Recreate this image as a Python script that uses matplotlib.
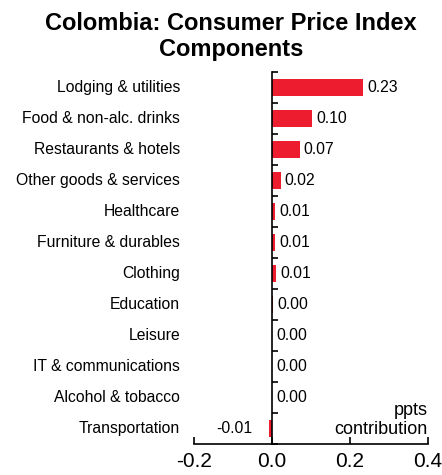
import numpy as np
import matplotlib
matplotlib.use("Agg")
from matplotlib import pyplot as plt

plt.rcParams['font.family'] = ['Liberation Sans', 'DejaVu Sans']

# data
categories = ['Lodging & utilities', 'Food & non-alc. drinks', 'Restaurants & hotels',
              'Other goods & services', 'Healthcare', 'Furniture & durables', 'Clothing',
              'Education', 'Leisure', 'IT & communications', 'Alcohol & tobacco', 'Transportation']
values = [0.233, 0.102, 0.071, 0.022, 0.008, 0.008, 0.011, 0.003, 0.0005, 0.0005, 0.0005, -0.008]
labels = ['0.23', '0.10', '0.07', '0.02', '0.01', '0.01', '0.01', '0.00', '0.00', '0.00', '0.00', '-0.01']
xticks = [-0.2, 0.0, 0.2, 0.4]

bar_color = '#ed1c2e'

fig = plt.figure(figsize=(4.42, 4.75), dpi=100)
ax = fig.add_axes([0.439, 0.065, 0.529, 0.783])

ypos = np.arange(len(categories))
ax.barh(ypos, values, height=0.55, color=bar_color)

# value labels
for y, v, lab in zip(ypos, values, labels):
    if v >= 0:
        ax.annotate(lab, (v, y), xytext=(3, 0), textcoords='offset points',
                    ha='left', va='center', fontsize=11.3)
    else:
        ax.annotate(lab, (v, y), xytext=(-12, 0), textcoords='offset points',
                    ha='right', va='center', fontsize=11.3)

# category names on the far left
for y, name in zip(ypos, categories):
    ax.text(-0.06, y, name, transform=ax.get_yaxis_transform(),
            ha='right', va='center', fontsize=11.3)

ax.set_xlim(-0.2, 0.4)
ax.set_ylim(len(categories) - 0.5, -0.5)
ax.set_xticks(xticks)
ax.set_xticklabels(['-0.2', '0.0', '0.2', '0.4'], fontsize=15)
ax.tick_params(axis='x', direction='in', length=5, width=1.2, pad=6)

ax.set_yticks(np.arange(-0.5, len(categories), 1.0))
ax.set_yticklabels([])
ax.tick_params(axis='y', direction='in', length=4, width=1.2)

ax.spines['left'].set_position(('data', 0))
ax.spines['left'].set_linewidth(1.2)
ax.spines['bottom'].set_linewidth(1.2)
ax.spines['top'].set_visible(False)
ax.spines['right'].set_visible(False)

ax.text(1.0, 10.72, 'ppts\ncontribution', transform=ax.get_yaxis_transform(),
        ha='right', va='center', fontsize=13, linespacing=1.2)

fig.text(0.523, 0.975, 'Colombia: Consumer Price Index\nComponents', ha='center', va='top',
         fontsize=17, fontweight='bold', linespacing=1.2)

fig.savefig('out.png', dpi=100)
